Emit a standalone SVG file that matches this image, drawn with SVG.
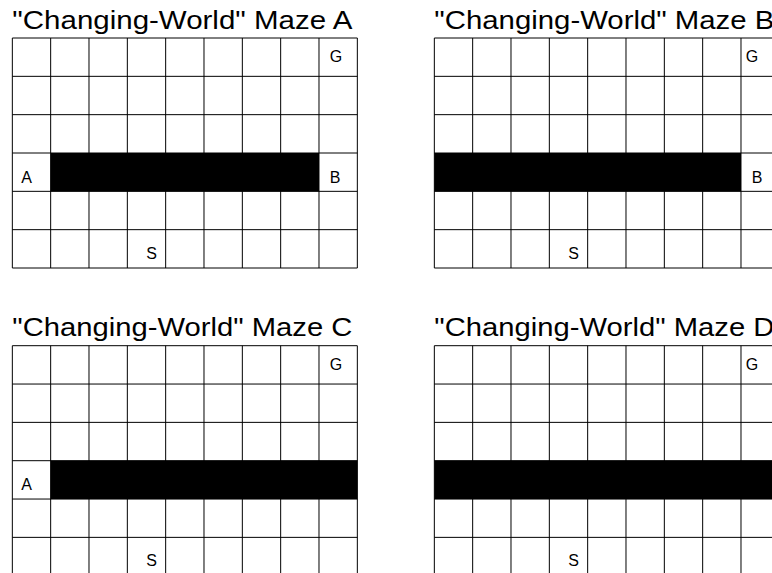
<svg xmlns="http://www.w3.org/2000/svg" width="772" height="573" viewBox="0 0 772 573">
  <style>
    .grid { fill: none; stroke: #000; stroke-width: 1; }
    .wall { fill: #000; stroke: none; }
    .title { font-family: "Liberation Sans", Arial, sans-serif; font-size: 26px; fill: #000; }
    .lbl { font-family: "Liberation Sans", Arial, sans-serif; font-size: 16px; fill: #000; }
  </style>
  <defs>
    <path id="gridpath" class="grid" d="M0 0V230M38.333 0V230M76.667 0V230M115 0V230M153.333 0V230M191.667 0V230M230 0V230M268.333 0V230M306.667 0V230M345 0V230M0 0H345M0 38.333H345M0 76.667H345M0 115H345M0 153.333H345M0 191.667H345M0 230H345"/>
  </defs>
  <rect x="0" y="0" width="772" height="573" fill="#fff"/>

  <g id="maze-a" transform="translate(12.33,38)">
    <text class="title" x="0" y="-9.5" textLength="340" lengthAdjust="spacingAndGlyphs">"Changing-World" Maze A</text>
    <use href="#gridpath"/>
    <rect class="wall" x="38.333" y="115" width="268.333" height="38.333"/>
    <text class="lbl" x="317.5" y="24">G</text>
    <text class="lbl" x="9" y="144.5">A</text>
    <text class="lbl" x="317.5" y="144.5">B</text>
    <text class="lbl" x="134" y="220.5">S</text>
  </g>

  <g id="maze-b" transform="translate(434.33,38)">
    <text class="title" x="0" y="-9.5" textLength="340" lengthAdjust="spacingAndGlyphs">"Changing-World" Maze B</text>
    <use href="#gridpath"/>
    <rect class="wall" x="0" y="115" width="306.667" height="38.333"/>
    <text class="lbl" x="311.5" y="24">G</text>
    <text class="lbl" x="317.5" y="144.5">B</text>
    <text class="lbl" x="134" y="220.5">S</text>
  </g>

  <g id="maze-c" transform="translate(12.33,345.7)">
    <text class="title" x="0" y="-9.5" textLength="340" lengthAdjust="spacingAndGlyphs">"Changing-World" Maze C</text>
    <use href="#gridpath"/>
    <rect class="wall" x="38.333" y="115" width="306.667" height="38.333"/>
    <text class="lbl" x="317.5" y="24">G</text>
    <text class="lbl" x="9" y="144.5">A</text>
    <text class="lbl" x="134" y="220.5">S</text>
  </g>

  <g id="maze-d" transform="translate(434.33,345.7)">
    <text class="title" x="0" y="-9.5" textLength="340" lengthAdjust="spacingAndGlyphs">"Changing-World" Maze D</text>
    <use href="#gridpath"/>
    <rect class="wall" x="0" y="115" width="345" height="38.333"/>
    <text class="lbl" x="311.5" y="24">G</text>
    <text class="lbl" x="134" y="220.5">S</text>
  </g>
</svg>
